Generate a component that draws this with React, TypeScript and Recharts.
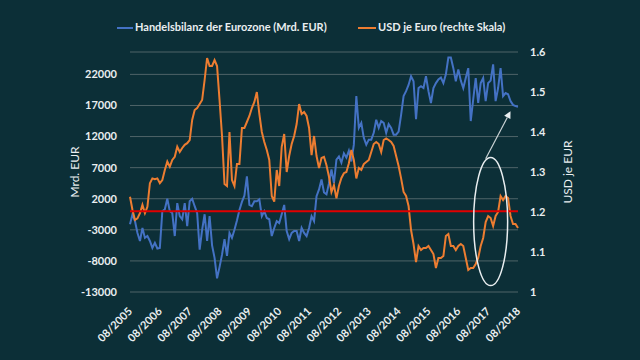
import { LineChart, Line, XAxis, YAxis, CartesianGrid, ReferenceLine, ReferenceDot } from "recharts";

// Handelsbilanz der Eurozone, monatlich ab 08/2005
const tradeBalance = [
  -2100, -500, -1600, -3500, -4800, -2700, -4300, -4000, -4800, -5900, -5100, -6000,
  -5900, 0, 300, 2000, 0, -300, -4000, 1300, -800, -1300, 1300, -2400,
  1600, 2000, 800, -300, -6200, -3000, -500, -4800, -800, -5500, -7500, -10800,
  -9000, -7000, -4500, -7200, -3500, -4300, -3000, -1500, 200, 1500, 2500, 5600,
  1000, 800, 1600, 1600, 1900, -800, 0, -1100, -1300, -4000, -2700, -1600,
  -1900, -500, 1000, -3200, -4500, -3500, -3200, -3200, -4800, -2700, -3500, -4000,
  -2700, -800, -1600, 2400, 3500, 5100, 3000, 2700, 4500, 6700, 4500, 8300,
  8800, 7800, 9300, 8600, 9700, 8000, 10700, 18500, 13400, 14200, 11800, 10700,
  11500, 11500, 12600, 14700, 13400, 14500, 14200, 12600, 14000, 13400, 12300, 12300,
  12800, 15500, 18500, 19300, 20300, 21700, 20900, 14800, 19800, 20100, 19800, 21700,
  19300, 17400, 19800, 20600, 21200, 21500, 20600, 22000, 24700, 24700, 23000, 20900,
  22800, 21000, 19800, 21400, 23000, 14500, 18000, 21400, 17400, 20600, 21400, 17700,
  20600, 21000, 23600, 17700, 19800, 23000, 18500, 19000, 18800, 17700, 17100, 16900,
  16800,
];

// USD je Euro
const usdPerEur = [
  1.238, 1.205, 1.18, 1.184, 1.197, 1.218, 1.197, 1.213, 1.272, 1.284, 1.282, 1.284,
  1.272, 1.28, 1.305, 1.326, 1.313, 1.33, 1.338, 1.363, 1.35, 1.36, 1.368, 1.372,
  1.38, 1.43, 1.455, 1.46, 1.47, 1.48, 1.53, 1.585, 1.565, 1.565, 1.58, 1.565,
  1.48, 1.39, 1.27, 1.265, 1.4, 1.28, 1.265, 1.32, 1.32, 1.41, 1.41, 1.425,
  1.44, 1.46, 1.475, 1.5, 1.445, 1.4, 1.375, 1.355, 1.33, 1.24, 1.226, 1.305,
  1.265, 1.363, 1.395, 1.3, 1.34, 1.37, 1.39, 1.42, 1.47, 1.445, 1.45, 1.44,
  1.41, 1.342, 1.39, 1.34, 1.31, 1.335, 1.338, 1.317, 1.288, 1.25, 1.267, 1.234,
  1.265, 1.285, 1.297, 1.3, 1.322, 1.355, 1.33, 1.284, 1.31, 1.305, 1.32, 1.325,
  1.33, 1.35, 1.37, 1.375, 1.37, 1.35, 1.38, 1.384, 1.38, 1.375, 1.365, 1.34,
  1.315, 1.284, 1.25, 1.24, 1.215, 1.155, 1.12, 1.075, 1.115, 1.105, 1.11, 1.11,
  1.115, 1.105, 1.095, 1.06, 1.085, 1.085, 1.09, 1.14, 1.145, 1.115, 1.115, 1.105,
  1.115, 1.12, 1.115, 1.085, 1.055, 1.06, 1.06, 1.07, 1.085, 1.115, 1.135, 1.175,
  1.19, 1.185, 1.165, 1.19, 1.2, 1.24, 1.23, 1.24, 1.235, 1.19, 1.17, 1.17,
  1.16,
];

const START_YEAR = 2005;
const START_MONTH = 8;
const months = tradeBalance.map((_, i) => {
  const n = START_MONTH - 1 + i;
  return `${String((n % 12) + 1).padStart(2, "0")}/${START_YEAR + Math.floor(n / 12)}`;
});

const leftTicks = [-13000, -8000, -3000, 2000, 7000, 12000, 17000, 22000];
const rightTicks = [1, 1.1, 1.2, 1.3, 1.4, 1.5, 1.6];

const data = months.map((m, i) => ({ m, trade: tradeBalance[i], usd: usdPerEur[i] }));

const BG = "#0c2f37";
const TEXT = "#e9eef0";
const FONT = "Lato, 'DejaVu Sans', sans-serif";

const XTick = ({ x, y, payload }: any) => (
  <text
    x={x + 3}
    y={y + 20}
    transform={`rotate(-45 ${x + 3} ${y + 20})`}
    textAnchor="end"
    fill={TEXT}
    fontSize={11}
    fontWeight="bold"
    fontFamily={FONT}
  >
    {payload.value}
  </text>
);

const Arrow = (p: any) => {
  const { x1, y1, x2, y2 } = p;
  const a = Math.atan2(y2 - y1, x2 - x1);
  const l = 7;
  const w = 3.5;
  const bx = x2 - l * Math.cos(a);
  const by = y2 - l * Math.sin(a);
  const pts = `${x2},${y2} ${bx - w * Math.sin(a)},${by + w * Math.cos(a)} ${bx + w * Math.sin(a)},${by - w * Math.cos(a)}`;
  return (
    <g>
      <line x1={x1} y1={y1} x2={bx} y2={by} stroke="#c9d2d4" strokeWidth={1.2} />
      <polygon points={pts} fill="#e9eef0" />
    </g>
  );
};

export default function App() {
  return (
    <div style={{ position: "fixed", left: 0, top: 0, width: 640, height: 360, background: BG, fontFamily: FONT }}>
      <div style={{ position: "absolute", top: 20, left: 0, width: 640, height: 16, color: TEXT, fontSize: 11, fontWeight: "bold" }}>
        <span style={{ position: "absolute", left: 117, top: 7, width: 16, height: 2, background: "#4472c4" }} />
        <span style={{ position: "absolute", left: 135, top: 0, whiteSpace: "nowrap" }}>
          Handelsbilanz der Eurozone (Mrd. EUR)
        </span>
        <span style={{ position: "absolute", left: 358, top: 7, width: 18, height: 2, background: "#ed7d31" }} />
        <span style={{ position: "absolute", left: 378, top: 0, whiteSpace: "nowrap" }}>
          USD je Euro (rechte Skala)
        </span>
      </div>
      <LineChart
        width={640}
        height={360}
        data={data}
        margin={{ top: 52, right: 62, bottom: 8, left: 70 }}
        style={{ position: "absolute", left: 0, top: 0 }}
      >
        <CartesianGrid yAxisId="left" vertical={false} stroke="#4f6468" strokeWidth={1} />
        <XAxis
          dataKey="m"
          interval={11}
          axisLine={false}
          tickLine={false}
          tickSize={0}
          tickMargin={0}
          height={60}
          tick={<XTick />}
        />
        <YAxis
          yAxisId="left"
          domain={[-13000, 25600]}
          ticks={leftTicks}
          width={60}
          axisLine={false}
          tickLine={false}
          tickSize={0}
          tickMargin={13}
          tick={{ fill: TEXT, fontSize: 11, fontWeight: "bold", fontFamily: FONT }}
          label={{
            content: ({ viewBox }: any) => (
              <text
                x={viewBox.x + 4}
                y={viewBox.y + viewBox.height / 2}
                transform={`rotate(-90 ${viewBox.x + 4} ${viewBox.y + viewBox.height / 2})`}
                textAnchor="middle"
                dominantBaseline="central"
                fill={TEXT}
                fontSize={12}
                fontFamily={FONT}
              >
                Mrd. EUR
              </text>
            ),
          }}
        />
        <YAxis
          yAxisId="right"
          orientation="right"
          domain={[1, 1.6]}
          ticks={rightTicks}
          width={60}
          axisLine={false}
          tickLine={false}
          tickSize={0}
          tickMargin={12}
          tick={{ fill: TEXT, fontSize: 11, fontWeight: "bold", fontFamily: FONT }}
          tickFormatter={(v: number) => String(v)}
          label={{
            content: ({ viewBox }: any) => (
              <text
                x={viewBox.x + 49}
                y={viewBox.y + viewBox.height / 2}
                transform={`rotate(-90 ${viewBox.x + 49} ${viewBox.y + viewBox.height / 2})`}
                textAnchor="middle"
                dominantBaseline="central"
                fill={TEXT}
                fontSize={12}
                fontFamily={FONT}
              >
                USD je EUR
              </text>
            ),
          }}
        />
        <Line
          yAxisId="left"
          type="linear"
          dataKey="trade"
          stroke="#4472c4"
          strokeWidth={2}
          dot={false}
          isAnimationActive={false}
        />
        <Line
          yAxisId="right"
          type="linear"
          dataKey="usd"
          stroke="#ed7d31"
          strokeWidth={2}
          dot={false}
          isAnimationActive={false}
        />
        <ReferenceLine yAxisId="left" y={0} stroke="#e00000" strokeWidth={2} />
        <ReferenceDot
          yAxisId="right"
          x="09/2017"
          y={1.176}
          shape={(p: any) => (
            <ellipse cx={p.cx} cy={p.cy} rx={17} ry={64} fill="none" stroke="#e9eef0" strokeWidth={1.5} />
          )}
        />
        <ReferenceLine
          yAxisId="right"
          segment={[
            { x: "07/2017", y: 1.333 },
            { x: "05/2018", y: 1.452 },
          ]}
          shape={Arrow}
        />
      </LineChart>
    </div>
  );
}
